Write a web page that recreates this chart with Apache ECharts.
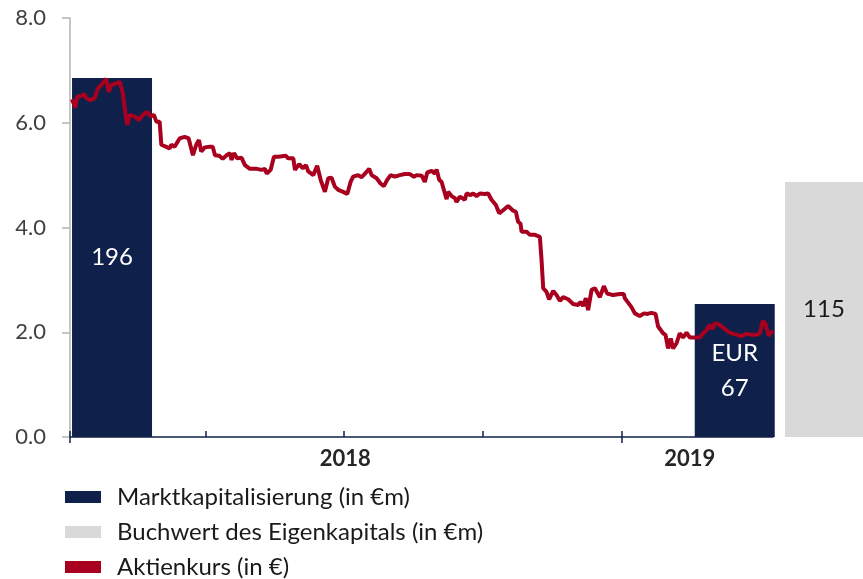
<!DOCTYPE html>
<html>
<head>
<meta charset="utf-8">
<script src="https://cdn.jsdelivr.net/npm/echarts@6/dist/echarts.min.js"></script>
<style>html,body{margin:0;padding:0;background:#fff}#c{width:863px;height:579px}</style>
</head>
<body>
<div id="c"></div>
<script>
// Trading days since 2018-01-01
const days = [1.3,3.5,4.8,7.5,9.3,10.8,13.7,16.3,18.5,20.7,24.0,25.6,27.3,29.6,32.9,35.0,36.6,37.9,39.5,42.8,45.4,48.3,51.1,53.4,55.5,57.1,59.3,60.4,63.7,65.9,67.0,69.2,72.5,75.8,78.5,81.3,83.5,85.3,86.8,89.1,92.4,94.4,95.9,98.7,101.0,103.6,105.8,106.9,108.4,110.6,113.5,115.7,119.0,123.5,126.8,128.9,130.1,132.7,134.9,137.7,142.8,144.3,147.7,148.8,151.6,153.9,156.1,157.6,160.9,163.5,165.8,168.6,170.8,173.0,175.2,177.4,180.7,183.4,185.6,187.3,190.6,192.9,195.1,197.9,199.5,202.8,205.4,207.6,209.8,212.1,214.9,218.2,221.5,224.8,227.5,229.3,232.6,234.7,236.3,239.2,241.4,242.5,244.2,245.8,248.0,249.1,250.1,252.4,254.6,255.7,257.9,261.2,262.3,265.0,266.7,268.9,271.1,274.4,276.6,278.8,281.7,283.9,286.5,289.8,293.1,294.9,296.4,298.0,298.7,302.0,304.2,307.5,310.8,311.9,313.0,315.2,316.9,319.6,321.8,324.0,326.2,329.5,332.8,336.1,337.7,339.4,341.2,342.7,345.0,347.2,350.5,353.1,355.3,359.2,363.7,366.3,367.0,368.8,371.4,373.6,376.9,379.7,382.0,384.6,387.3,389.0,392.3,393.9,395.6,397.4,398.9,401.2,403.3,405.5,407.8,410.0,413.3,416.6,418.8,421.0,423.2,425.0,426.5,428.7,432.0,435.3,438.6,441.5,444.2,446.8,450.8,454.1,456.2,458.4,460.0,462.2,464.0,465.1];
const prices = [6.45,6.29,6.50,6.51,6.55,6.47,6.43,6.47,6.66,6.72,6.84,6.59,6.72,6.74,6.78,6.56,6.18,5.96,6.15,6.12,6.05,6.15,6.21,6.12,6.15,6.02,6.02,5.58,5.54,5.51,5.58,5.54,5.70,5.73,5.70,5.38,5.58,5.67,5.45,5.53,5.54,5.54,5.38,5.37,5.31,5.38,5.42,5.29,5.42,5.32,5.33,5.19,5.12,5.12,5.10,5.12,5.03,5.10,5.35,5.35,5.37,5.32,5.32,5.10,5.21,5.13,5.19,5.07,5.00,5.18,4.91,4.68,4.94,4.95,4.78,4.72,4.68,4.64,4.87,4.97,5.00,4.96,5.03,5.12,5.00,4.94,4.84,4.79,4.91,5.00,4.97,5.00,5.02,5.02,4.97,5.00,4.99,4.87,5.05,5.08,5.03,5.11,4.91,4.87,4.65,4.54,4.68,4.60,4.56,4.49,4.59,4.53,4.65,4.62,4.65,4.60,4.65,4.64,4.65,4.53,4.43,4.27,4.33,4.41,4.32,4.30,4.11,4.07,3.92,3.92,3.86,3.86,3.82,3.38,2.84,2.77,2.63,2.79,2.71,2.60,2.67,2.63,2.54,2.52,2.58,2.50,2.65,2.42,2.81,2.84,2.67,2.88,2.74,2.71,2.73,2.73,2.65,2.58,2.48,2.36,2.31,2.36,2.35,2.37,2.35,2.11,1.98,1.95,1.69,1.88,1.69,1.79,1.98,1.90,1.99,1.90,1.90,1.90,1.98,2.04,2.14,2.06,2.17,2.16,2.09,2.01,1.97,1.95,1.92,1.97,1.95,1.95,1.98,2.22,2.16,1.93,2.01,1.99];

// Market cap bars (height on price scale, label in €m)
const capDays = [27.8, 439.7];
const capHeights = [6.855, 2.54];
const capLabels = ['196', 'EUR\n67'];

// Book value bar
const bookCategories = ['Buchwert'];
const bookHeights = [4.87];
const bookLabels = ['115'];

const yTicks = [0, 2, 4, 6, 8];
const quarterTickDays = [0, 90, 181, 273, 365];
const yearTickDays = [0, 365];
const yearLabelDays = [182, 410];
const yearLabels = ['2018', '2019'];

const seriesNames = ['Marktkapitalisierung (in €m)', 'Buchwert des Eigenkapitals (in €m)', 'Aktienkurs (in €)'];

const FONT = 'Lato';
const NAVY = '#0f204b';
const GREY = '#d9d9d9';
const RED = '#a8001e';

const chart = echarts.init(document.getElementById('c'), null, {renderer: 'canvas'});

const linePts = days.map((d, i) => [d, prices[i]]);
const capPts = capDays.map((d, i) => [d, capHeights[i]]);

chart.setOption({
  animation: false,
  textStyle: {fontFamily: FONT},
  grid: [
    {left: 70, right: 90, top: 18, bottom: 142, containLabel: false},
    {left: 785, right: 0, top: 18, bottom: 142, containLabel: false}
  ],
  xAxis: [
    {
      type: 'value', gridIndex: 0, min: 0, max: 465,
      axisLine: {show: true, lineStyle: {color: NAVY, width: 1.5}},
      axisTick: {show: true, inside: true, length: 6, customValues: quarterTickDays, lineStyle: {color: NAVY, width: 1.5}},
      axisLabel: {show: false},
      splitLine: {show: false}
    },
    {
      type: 'value', gridIndex: 0, min: 0, max: 465, position: 'bottom',
      axisLine: {show: false},
      axisTick: {show: true, inside: false, length: 6, customValues: yearTickDays, lineStyle: {color: NAVY, width: 1.5}},
      axisLabel: {
        show: true, customValues: yearLabelDays, margin: 11,
        fontFamily: FONT, fontSize: 22, fontWeight: 'bold', color: '#262626',
        formatter: v => yearLabels[yearLabelDays.indexOf(v)] || ''
      },
      splitLine: {show: false}
    },
    {
      type: 'category', gridIndex: 1, data: bookCategories,
      axisLine: {show: false}, axisTick: {show: false}, axisLabel: {show: false}
    }
  ],
  yAxis: [
    {
      type: 'value', gridIndex: 0, min: 0, max: 8, interval: 2,
      axisLine: {show: true, lineStyle: {color: '#b3b3b3', width: 1.5}},
      axisTick: {show: true, length: 8, lineStyle: {color: '#b3b3b3', width: 1.5}},
      axisLabel: {
        margin: 24, fontFamily: FONT, fontSize: 22, color: '#404040',
        formatter: v => v.toFixed(1)
      },
      splitLine: {show: false}
    },
    {
      type: 'value', gridIndex: 1, min: 0, max: 8,
      axisLine: {show: false}, axisTick: {show: false}, axisLabel: {show: false}, splitLine: {show: false}
    }
  ],
  legend: {
    orient: 'vertical', left: 65, top: 485, padding: 0, width: 500, height: 200,
    itemWidth: 36, itemHeight: 12, itemGap: 11,
    icon: 'rect',
    data: seriesNames,
    textStyle: {fontFamily: FONT, fontSize: 24, color: '#1a1a1a', lineHeight: 21, padding: [0, 0, 0, 11]}
  },
  series: [
    {
      name: seriesNames[0], type: 'bar', xAxisIndex: 0, yAxisIndex: 0,
      data: capPts, barWidth: 80, clip: false, z: 1,
      itemStyle: {color: NAVY},
      label: {
        show: true, position: 'inside', color: '#ffffff',
        fontFamily: FONT, fontSize: 24, lineHeight: 35,
        formatter: p => capLabels[p.dataIndex]
      }
    },
    {
      name: seriesNames[1], type: 'bar', xAxisIndex: 2, yAxisIndex: 1,
      data: bookHeights, barWidth: '100%', z: 1,
      itemStyle: {color: GREY},
      label: {
        show: true, position: 'inside', color: '#1a1a1a',
        fontFamily: FONT, fontSize: 24,
        formatter: p => bookLabels[p.dataIndex]
      }
    },
    {
      name: seriesNames[2], type: 'line', xAxisIndex: 0, yAxisIndex: 0,
      data: linePts, showSymbol: false, symbol: 'none', z: 3,
      lineStyle: {color: RED, width: 4},
      itemStyle: {color: RED}
    }
  ]
});
</script>
</body>
</html>
